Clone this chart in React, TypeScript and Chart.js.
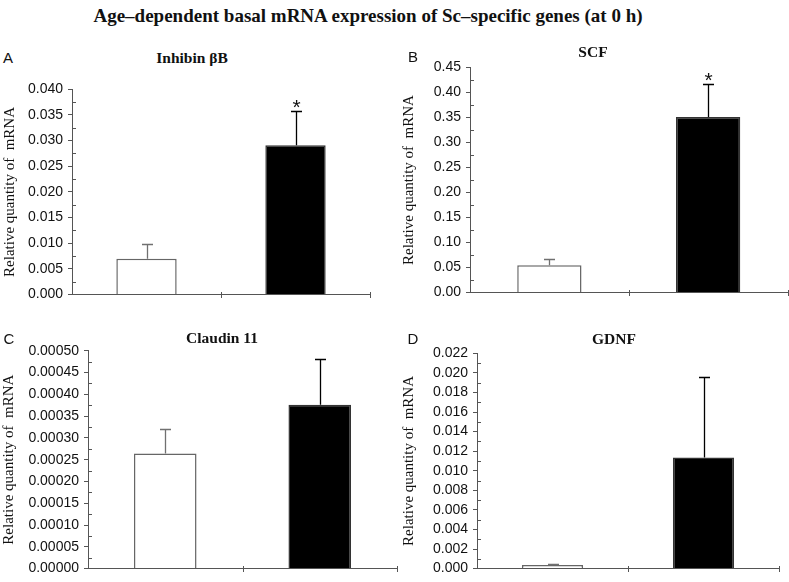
import React, { useEffect, useRef } from 'react';
import { Chart, registerables } from 'chart.js';

Chart.register(...registerables);

// ---------- data ----------
const groups = ['Group 1', 'Group 2'];

const inhibinMeans = [0.0070, 0.0291];
const inhibinErrors = [0.0028, 0.0067];
const inhibinSig = [false, true];

const scfMeans = [0.0545, 0.351];
const scfErrors = [0.012, 0.066];
const scfSig = [false, true];

const claudinMeans = [0.000264, 0.000376];
const claudinErrors = [0.000057, 0.000105];
const claudinSig = [false, false];

const gdnfMeans = [0.00037, 0.01135];
const gdnfErrors = [0.00009, 0.00825];
const gdnfSig = [false, false];

const inhibinTicks = { max: 0.04, step: 0.005, decimals: 3 };
const scfTicks = { max: 0.45, step: 0.05, decimals: 2 };
const claudinTicks = { max: 0.0005, step: 0.00005, decimals: 5 };
const gdnfTicks = { max: 0.022, step: 0.002, decimals: 3 };

const mainTitle = 'Age\u2013dependent basal mRNA expression of Sc\u2013specific genes (at 0 h)';
const yAxisTitle = 'Relative quantity of  mRNA';

// ---------- layout / style ----------
const AXIS = '#555';
const barFill = ['#ffffff', '#000000'];
const barBorder = ['#666666', '#333333'];
const errColor = ['#707070', '#000000'];

type PanelCfg = {
  letter: string; title: string;
  means: number[]; errors: number[]; sig: boolean[];
  ticks: { max: number; step: number; decimals: number };
  area: { l: number; t: number; r: number; b: number };
  canvasLeft: number;
  letterPos: [number, number]; titlePos: [number, number];
};

const panels: PanelCfg[] = [
  { letter: 'A', title: 'Inhibin \u03b2B', means: inhibinMeans, errors: inhibinErrors, sig: inhibinSig, ticks: inhibinTicks,
    area: { l: 72, t: 89.3, r: 370, b: 298 }, canvasLeft: 1, letterPos: [8, 57], titlePos: [192, 58] },
  { letter: 'B', title: 'SCF', means: scfMeans, errors: scfErrors, sig: scfSig, ticks: scfTicks,
    area: { l: 470, t: 67.5, r: 787.5, b: 296 }, canvasLeft: 400, letterPos: [413, 56], titlePos: [593, 52] },
  { letter: 'C', title: 'Claudin 11', means: claudinMeans, errors: claudinErrors, sig: claudinSig, ticks: claudinTicks,
    area: { l: 88, t: 350.7, r: 397, b: 577.3 }, canvasLeft: 0, letterPos: [9, 338], titlePos: [222, 338] },
  { letter: 'D', title: 'GDNF', means: gdnfMeans, errors: gdnfErrors, sig: gdnfSig, ticks: gdnfTicks,
    area: { l: 477, t: 353.3, r: 779, b: 575.7 }, canvasLeft: 400, letterPos: [413, 338], titlePos: [614, 339] },
];

const X_AXIS_H = 6;

function geometry(p: PanelCfg) {
  const { l, t, r, b } = p.area;
  const top = Math.floor(t) - 14;
  const bottom = Math.min(582, Math.ceil(b) + 10);
  const right = Math.min(789, Math.ceil(r) + 14);
  return {
    left: p.canvasLeft, top, width: right - p.canvasLeft, height: bottom - top,
    yAxisW: l - p.canvasLeft,
    padTop: t - top, padBottom: bottom - b - X_AXIS_H, padRight: right - r,
  };
}

function Panel({ p }: { p: PanelCfg }) {
  const ref = useRef<HTMLCanvasElement>(null);
  const g = geometry(p);
  useEffect(() => {
    if (!ref.current) return;
    const decor = {
      id: 'decor',
      afterDatasetsDraw(chart: any) {
        const ctx = chart.ctx;
        const ys = chart.scales.y;
        const meta = chart.getDatasetMeta(0);
        meta.data.forEach((bar: any, i: number) => {
          const top = ys.getPixelForValue(p.means[i] + p.errors[i]);
          const x = Math.round(bar.x) + 0.5;
          ctx.save();
          ctx.strokeStyle = errColor[i];
          ctx.lineWidth = 1.3;
          ctx.beginPath();
          ctx.moveTo(x, bar.y);
          ctx.lineTo(x, top);
          ctx.moveTo(x - 5.5, Math.round(top) + 0.5);
          ctx.lineTo(x + 5.5, Math.round(top) + 0.5);
          ctx.stroke();
          if (p.sig[i]) {
            ctx.fillStyle = '#111';
            ctx.font = '21px "Liberation Sans", Arial, sans-serif';
            ctx.textAlign = 'center';
            ctx.textBaseline = 'alphabetic';
            ctx.fillText('*', x, top + 3);
          }
          ctx.restore();
        });
      },
      afterDraw(chart: any) {
        const ctx = chart.ctx;
        const ys = chart.scales.y;
        const xs = chart.scales.x;
        const area = chart.chartArea;
        ctx.save();
        ctx.strokeStyle = AXIS;
        ctx.lineWidth = 1;
        ctx.beginPath();
        // minor ticks (inward)
        const ax = Math.round(area.left) + 0.5;
        for (let v = p.ticks.step / 2; v < p.ticks.max; v += p.ticks.step) {
          const y = Math.round(ys.getPixelForValue(v)) + 0.5;
          ctx.moveTo(ax, y);
          ctx.lineTo(ax + 3.5, y);
        }
        // x-axis category boundary ticks (crossing)
        const by = Math.round(area.bottom);
        for (let k = 0.5; k < groups.length; k += 1) {
          const px = Math.round(xs.getPixelForValue(k)) + 0.5;
          ctx.moveTo(px, by - 3);
          ctx.lineTo(px, by + 3);
        }
        ctx.stroke();
        ctx.restore();
      },
    };
    const chart = new Chart(ref.current, {
      type: 'bar',
      data: {
        labels: groups,
        datasets: [{
          data: p.means,
          backgroundColor: barFill,
          borderColor: barBorder,
          borderWidth: 1.5,
          barPercentage: 0.405,
          categoryPercentage: 1,
        }],
      },
      options: {
        responsive: false,
        animation: false,
        devicePixelRatio: 1,
        layout: { padding: { left: 0, top: g.padTop, right: g.padRight, bottom: g.padBottom } },
        plugins: { legend: { display: false }, tooltip: { enabled: false }, title: { display: false } },
        scales: {
          x: {
            type: 'category',
            offset: true,
            grid: { display: false, offset: true },
            border: { display: true, color: AXIS, width: 1 },
            ticks: { display: false },
            afterFit: (s: any) => { s.height = X_AXIS_H; },
          },
          y: {
            min: 0,
            max: p.ticks.max,
            ticks: {
              stepSize: p.ticks.step,
              autoSkip: false,
              padding: 5,
              color: '#111',
              font: { family: '"Liberation Sans", Arial, sans-serif', size: 14 },
              callback: (v: any) => Number(v).toFixed(p.ticks.decimals),
            },
            grid: { drawOnChartArea: false, drawTicks: true, tickLength: 4, color: AXIS },
            border: { display: true, color: AXIS, width: 1 },
            title: {
              display: true,
              text: yAxisTitle,
              color: '#111',
              padding: 0,
              font: { family: '"Liberation Serif", "Times New Roman", serif', size: 15 },
            },
            afterFit: (s: any) => { s.width = g.yAxisW; },
          },
        },
      } as any,
      plugins: [decor],
    });
    return () => chart.destroy();
  }, []);
  return (
    <canvas
      ref={ref}
      width={g.width}
      height={g.height}
      style={{ position: 'absolute', left: g.left, top: g.top, width: g.width, height: g.height }}
    />
  );
}

function Label({ text, x, y, style }: { text: string; x: number; y: number; style: React.CSSProperties }) {
  return (
    <div
      style={{
        position: 'absolute', left: x, top: y, transform: 'translate(-50%, -50%)',
        whiteSpace: 'pre', lineHeight: 1, color: '#111', ...style,
      }}
    >
      {text}
    </div>
  );
}

export default function App() {
  const titleFont: React.CSSProperties = { fontFamily: '"Liberation Serif", "Times New Roman", serif', fontWeight: 'bold', fontSize: 15.5 };
  const letterFont: React.CSSProperties = { fontFamily: '"Liberation Sans", Arial, sans-serif', fontSize: 15 };
  return (
    <div style={{ position: 'absolute', left: 0, top: 0, width: 789, height: 582, background: '#fff', overflow: 'hidden' }}>
      {panels.map((p) => <Panel key={p.letter} p={p} />)}
      <Label text={mainTitle} x={368} y={15}
        style={{ fontFamily: '"Liberation Serif", "Times New Roman", serif', fontWeight: 'bold', fontSize: 19 }} />
      {panels.map((p) => (
        <React.Fragment key={'t' + p.letter}>
          <Label text={p.letter} x={p.letterPos[0]} y={p.letterPos[1]} style={letterFont} />
          <Label text={p.title} x={p.titlePos[0]} y={p.titlePos[1]} style={titleFont} />
        </React.Fragment>
      ))}
    </div>
  );
}
